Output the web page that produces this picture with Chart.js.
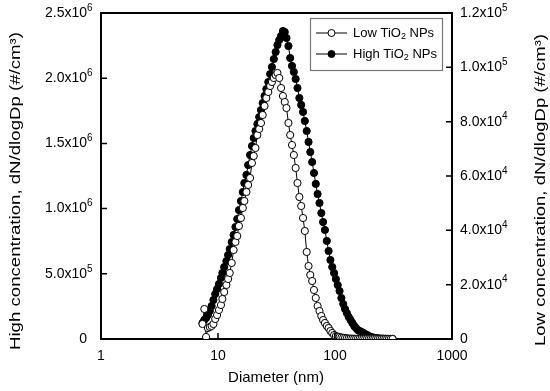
<!DOCTYPE html>
<html><head><meta charset="utf-8">
<script src="https://cdn.jsdelivr.net/npm/chart.js@4.4.1/dist/chart.umd.min.js"></script>
<style>html,body{margin:0;padding:0;background:#fff;}#wrap{width:550px;height:391px;}</style>
</head><body><div id="wrap"><canvas id="c" width="550" height="391"></canvas></div>
<script>
const diameters = [7.37,7.64,7.91,8.2,8.51,8.82,9.14,9.47,9.82,10.2,
10.6,10.9,11.3,11.8,12.2,12.6,13.1,13.6,14.1,14.6,
15.1,15.7,16.3,16.8,17.5,18.1,18.8,19.5,20.2,20.9,
21.7,22.5,23.3,24.1,25.0,25.9,26.9,27.9,28.9,30.0,
31.1,32.2,33.4,34.6,35.9,37.2,38.5,40.0,41.4,42.9,
44.5,46.1,47.8,49.6,51.4,53.3,55.2,57.3,59.4,61.5,
63.8,66.1,68.5,71.0,73.7,76.4,79.1,82.0,85.1,88.2,
91.4,94.7,98.2,101.8,105.5,109.4,113.4,117.6,121.9,126.3,
131.0,135.8,140.7,145.9,151.2,156.8,162.5,168.5,174.7,181.1,
187.7,194.6,201.7,209.1,216.7,224.7,232.9,241.4,250.3,259.5,
269.0,278.8,289.0,299.6,310.6];

const highValues = [123000,146000,161000,184000,215000,253000,299000,345000,383000,422000,
468000,506000,552000,598000,644000,690000,744000,798000,859000,920000,
989000,1058000,1127000,1196000,1258000,1334000,1411000,1480000,1541000,1595000,
1649000,1702000,1756000,1810000,1864000,1917000,1971000,2032000,2086000,2147000,
2201000,2255000,2293000,2324000,2362000,2354000,2308000,2247000,2155000,2094000,
2048000,1994000,1925000,1848000,1795000,1741000,1672000,1595000,1511000,1434000,
1357000,1273000,1189000,1112000,1043000,966000,897000,836000,752000,675000,
606000,552000,506000,460000,414000,368000,314000,268000,230000,199000,
169000,146000,123000,100000,84000,69000,61000,54000,46000,38000,
31000,23000,17000,13000,9000,7000,5000,4000,3000,2500,
2000,1500,1000,1000,500];

const lowValues = [5520,11040,740,4050,4420,4790,5520,7360,8830,10680,
12520,14720,17300,19880,22090,24300,27980,32760,35710,37910,
41600,44540,48220,50800,54110,56690,59260,64790,67360,70310,
75090,77300,79510,82450,85770,88710,90920,93130,94600,96070,
97180,97920,96070,92390,89450,87240,85030,79510,75090,71410,
67730,62950,57420,52270,48960,44540,39760,32030,26870,23560,
21350,18040,15090,12150,10310,8470,6990,5890,4790,4050,
2950,2210,1470,1100,880,740,550,440,370,260,
180,150,120,100,80,70,60,50,40,35,
30,25,20,18,15,12,10,8,6,5,
4,3,2,2,1];

const xTickValues = [1,10,100,1000];
const xTickLabels = ["1","10","100","1000"];
const leftTickValues = [0,500000,1000000,1500000,2000000,2500000];
const leftTickLabels = [["0",""],["5.0x10","5"],["1.0x10","6"],["1.5x10","6"],["2.0x10","6"],["2.5x10","6"]];
const rightTickValues = [0,20000,40000,60000,80000,100000,120000];
const rightTickLabels = [["0",""],["2.0x10","4"],["4.0x10","4"],["6.0x10","4"],["8.0x10","4"],["1.0x10","5"],["1.2x10","5"]];
const seriesNames = [["Low TiO","2"," NPs"],["High TiO","2"," NPs"]];
const xTitle = "Diameter (nm)";
const leftTitle = "High concentration, dN/dlogDp (#/cm\u00B3)";
const rightTitle = "Low concentration, dN/dlogDp (#/cm\u00B3)";

const FONT = 'Arial, "Liberation Sans", sans-serif';

const lowData = diameters.map((d,i)=>({x:d,y:lowValues[i]}));
const highData = diameters.map((d,i)=>({x:d,y:highValues[i]}));

const decor = {
  id:'decor',
  afterDraw(chart){
    const {ctx, chartArea:a, scales} = chart;
    ctx.save();
    ctx.strokeStyle='#000';
    ctx.lineWidth=2;
    ctx.beginPath(); ctx.moveTo(a.left-1,a.top); ctx.lineTo(a.right+1,a.top); ctx.stroke();
    ctx.lineWidth=1.5;
    ctx.beginPath();
    leftTickValues.forEach(v=>{const y=scales.y.getPixelForValue(v); ctx.moveTo(a.left,y); ctx.lineTo(a.left+6,y);});
    rightTickValues.forEach(v=>{const y=scales.y2.getPixelForValue(v); ctx.moveTo(a.right,y); ctx.lineTo(a.right-6,y);});
    xTickValues.forEach(v=>{const x=scales.x.getPixelForValue(v); ctx.moveTo(x,a.bottom); ctx.lineTo(x,a.bottom-6);});
    ctx.stroke();

    ctx.fillStyle='#000';
    // y tick labels with superscripts
    ctx.textBaseline='middle';
    leftTickValues.forEach((v,i)=>{
      const y=scales.y.getPixelForValue(v);
      const [b,s]=leftTickLabels[i];
      ctx.font='14px '+FONT; ctx.textAlign='right'; ctx.fillText(b, a.left-14, y);
      if(s){ctx.font='10px '+FONT; ctx.textAlign='left'; ctx.fillText(s, a.left-14, y-5);}
    });
    rightTickValues.forEach((v,i)=>{
      const y=scales.y2.getPixelForValue(v);
      const [b,s]=rightTickLabels[i];
      ctx.font='14px '+FONT; ctx.textAlign='left'; ctx.fillText(b, a.right+8, y);
      if(s){const w=ctx.measureText(b).width; ctx.font='10px '+FONT; ctx.fillText(s, a.right+8+w, y-5);}
    });

    // titles
    ctx.font='15px '+FONT;
    ctx.textAlign='center'; ctx.textBaseline='middle';
    ctx.fillText(xTitle, 276, 378);
    function vtitle(t,cx,cy,len){
      ctx.save(); ctx.translate(cx,cy); ctx.rotate(-Math.PI/2);
      const w=ctx.measureText(t).width; ctx.scale(len/w,1);
      ctx.fillText(t,0,0); ctx.restore();
    }
    vtitle(leftTitle, 16, 191, 318);
    vtitle(rightTitle, 541, 190, 312);

    // legend
    ctx.strokeStyle='#777'; ctx.lineWidth=1.2;
    ctx.strokeRect(310.5,18.5,132,52);
    const rows=[33,54];
    const fills=['#fff','#000'];
    rows.forEach((y,i)=>{
      ctx.strokeStyle='#000'; ctx.lineWidth=1;
      ctx.beginPath(); ctx.moveTo(316,y); ctx.lineTo(347,y); ctx.stroke();
      ctx.beginPath(); ctx.arc(331.5,y,3.5,0,Math.PI*2); ctx.fillStyle=fills[i]; ctx.fill(); ctx.stroke();
      ctx.fillStyle='#000'; ctx.textAlign='left'; ctx.textBaseline='middle';
      ctx.font='13px '+FONT;
      let x=353;
      const [a1,sub,a2]=seriesNames[i];
      ctx.fillText(a1,x,y); x+=ctx.measureText(a1).width;
      ctx.font='9px '+FONT; ctx.fillText(sub,x,y+4); x+=ctx.measureText(sub).width;
      ctx.font='13px '+FONT; ctx.fillText(a2,x,y);
    });
    ctx.restore();
  }
};

new Chart(document.getElementById('c'), {
  type:'line',
  data:{datasets:[
    {label:'Low', data:lowData, yAxisID:'y2', borderColor:'#000', borderWidth:1, pointRadius:3.6, pointBorderWidth:1, pointBorderColor:'#000', pointBackgroundColor:'#fff', tension:0, fill:false},
    {label:'High', data:highData, yAxisID:'y', borderColor:'#000', borderWidth:1, pointRadius:3.6, pointBorderWidth:1, pointBorderColor:'#000', pointBackgroundColor:'#000', tension:0, fill:false}
  ]},
  options:{
    responsive:false, animation:false,
    layout:{padding:{top:13,left:0,right:0,bottom:0}},
    plugins:{legend:{display:false}, tooltip:{enabled:false}},
    scales:{
      x:{type:'logarithmic', position:'bottom', min:1, max:1000,
        afterBuildTicks:s=>{s.ticks=xTickValues.map(v=>({value:v}));},
        ticks:{autoSkip:false, maxRotation:0, padding:9, color:'#000', font:{family:FONT,size:14},
          callback:(v)=>{const i=xTickValues.indexOf(v); return i>=0?xTickLabels[i]:'';}},
        grid:{display:false, drawTicks:false},
        border:{display:true, color:'#000', width:2},
        afterFit:s=>{s.height=52;}
      },
      y:{type:'linear', position:'left', min:0, max:2500000,
        afterBuildTicks:s=>{s.ticks=leftTickValues.map(v=>({value:v}));},
        ticks:{display:false},
        grid:{display:false, drawTicks:false},
        border:{display:true, color:'#000', width:2},
        afterFit:s=>{s.width=101;}
      },
      y2:{type:'linear', position:'right', min:0, max:120000,
        afterBuildTicks:s=>{s.ticks=rightTickValues.map(v=>({value:v}));},
        ticks:{display:false},
        grid:{display:false, drawTicks:false},
        border:{display:true, color:'#000', width:2},
        afterFit:s=>{s.width=98;}
      }
    }
  },
  plugins:[decor]
});
</script>
</body></html>
